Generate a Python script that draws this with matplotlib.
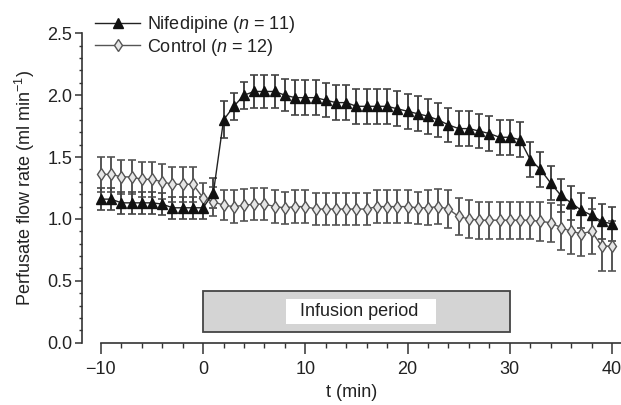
import matplotlib
matplotlib.use('Agg')
import matplotlib.pyplot as plt
from matplotlib.patches import Rectangle
from matplotlib.ticker import MultipleLocator
from matplotlib.lines import Line2D

plt.rcParams['font.family'] = ['Liberation Sans', 'DejaVu Sans']
plt.rcParams['mathtext.fontset'] = 'custom'
plt.rcParams['mathtext.rm'] = 'Liberation Sans'
plt.rcParams['mathtext.it'] = 'Liberation Sans:italic'

# ---- data ----
time_min = list(range(-10, 41))
nifedipine = [1.16, 1.16, 1.13, 1.13, 1.13, 1.13, 1.12, 1.09, 1.09, 1.09, 1.09,
              1.21, 1.80, 1.91, 2.00, 2.03, 2.03, 2.03, 2.00, 1.98, 1.98,
              1.98, 1.96, 1.94, 1.94, 1.91, 1.91, 1.91, 1.91, 1.89, 1.87,
              1.85, 1.83, 1.80, 1.76, 1.73, 1.73, 1.71, 1.69, 1.66, 1.66,
              1.64, 1.48, 1.40, 1.29, 1.19, 1.13, 1.07, 1.03, 0.98, 0.96]
nifedipine_sem = [0.09, 0.09, 0.09, 0.09, 0.09, 0.09, 0.09, 0.09, 0.09, 0.09, 0.09,
                  0.12, 0.15, 0.11, 0.11, 0.13, 0.13, 0.13, 0.13, 0.14, 0.14,
                  0.14, 0.14, 0.14, 0.14, 0.14, 0.14, 0.14, 0.14, 0.14, 0.14,
                  0.14, 0.14, 0.14, 0.14, 0.14, 0.14, 0.14, 0.14, 0.14, 0.14,
                  0.14, 0.14, 0.14, 0.14, 0.13, 0.14, 0.14, 0.14, 0.14, 0.14]
control = [1.36, 1.36, 1.34, 1.34, 1.32, 1.32, 1.30, 1.28, 1.28, 1.28, 1.17,
           1.14, 1.11, 1.10, 1.11, 1.12, 1.12, 1.10, 1.09, 1.10, 1.10,
           1.08, 1.08, 1.08, 1.08, 1.08, 1.08, 1.10, 1.10, 1.10, 1.10,
           1.09, 1.09, 1.10, 1.08, 1.02, 1.00, 0.99, 0.99, 0.99, 0.99,
           0.99, 0.99, 0.98, 0.97, 0.93, 0.90, 0.88, 0.90, 0.78, 0.78]
control_sem = [0.14, 0.14, 0.14, 0.14, 0.14, 0.14, 0.14, 0.14, 0.14, 0.14, 0.12,
               0.12, 0.12, 0.13, 0.13, 0.13, 0.13, 0.13, 0.13, 0.13, 0.13,
               0.13, 0.13, 0.13, 0.13, 0.13, 0.13, 0.13, 0.13, 0.13, 0.13,
               0.13, 0.14, 0.14, 0.15, 0.15, 0.15, 0.15, 0.15, 0.15, 0.15,
               0.15, 0.15, 0.16, 0.16, 0.18, 0.18, 0.18, 0.18, 0.20, 0.20]
infusion_start, infusion_end = 0, 30
labels = ['Nifedipine ($n$ = 11)', 'Control ($n$ = 12)']
x_label = 't (min)'
y_label = 'Perfusate flow rate (ml min$^{\u22121}$)'
box_label = 'Infusion period'

# ---- figure ----
fig = plt.figure(figsize=(6.21, 4.05), dpi=100)
ax = fig.add_axes([82 / 621, 62.3 / 405, 539 / 621, 309.4 / 405])
ax.set_xlim(-11.85, 40.88)
ax.set_ylim(0, 2.5)

axc = '#333333'
# infusion box
ax.add_patch(Rectangle((infusion_start, 0.089), infusion_end - infusion_start, 0.331,
                       facecolor='#d4d4d4', edgecolor='#444444', lw=1.3, zorder=1))
ax.add_patch(Rectangle((8.15, 0.151), 14.65, 0.20, facecolor='white',
                       edgecolor='none', zorder=2))
ax.text(15.3, 0.252, box_label, ha='center', va='center', fontsize=13,
        color='#222222', zorder=3)

# error bars
ax.errorbar(time_min, control, yerr=control_sem, fmt='none', ecolor='#555555',
            elinewidth=1.4, capsize=2.8, capthick=1.2, zorder=4)
ax.errorbar(time_min, nifedipine, yerr=nifedipine_sem, fmt='none', ecolor='#444444',
            elinewidth=1.4, capsize=2.8, capthick=1.2, zorder=4)
ax.plot(time_min, control, color='#555555', lw=1.0, marker='d', ms=6,
        mfc='#e6e6e6', mec='#555555', mew=1.0, zorder=5)
ax.plot(time_min, nifedipine, color='#222222', lw=1.0, marker='^', ms=7,
        mfc='#111111', mec='#111111', zorder=6)

# spines and ticks
for s in ['top', 'right']:
    ax.spines[s].set_visible(False)
ax.spines['left'].set_bounds(0, 2.5)
ax.spines['bottom'].set_bounds(-10, 40.88)
for s in ['left', 'bottom']:
    ax.spines[s].set_color(axc)
    ax.spines[s].set_linewidth(1.2)

ax.xaxis.set_major_locator(MultipleLocator(10))
ax.xaxis.set_minor_locator(MultipleLocator(2))
ax.yaxis.set_major_locator(MultipleLocator(0.5))
ax.yaxis.set_minor_locator(MultipleLocator(0.1))
ax.set_xticks([-10, 0, 10, 20, 30, 40])
ax.set_xticklabels(['\u221210', '0', '10', '20', '30', '40'])
ax.set_yticks([0, 0.5, 1.0, 1.5, 2.0, 2.5])
ax.set_yticklabels(['0.0', '0.5', '1.0', '1.5', '2.0', '2.5'])
ax.tick_params(axis='x', which='major', length=8, width=1.1, color=axc,
               labelsize=13, pad=5.5, labelcolor='#222222')
ax.tick_params(axis='x', which='minor', length=3.5, width=1.0, color=axc)
ax.tick_params(axis='y', which='major', length=5, width=1.1, color=axc,
               labelsize=13, pad=2, labelcolor='#222222')
ax.tick_params(axis='y', which='minor', length=2.2, width=1.0, color=axc)

ax.set_xlabel(x_label, fontsize=13, color='#222222', labelpad=4)
ax.set_ylabel(y_label, fontsize=13, color='#222222', labelpad=7)

# legend
h1 = Line2D([], [], color='#222222', lw=1.0, marker='^', ms=7, mfc='#111111', mec='#111111')
h2 = Line2D([], [], color='#555555', lw=1.0, marker='d', ms=6, mfc='#e6e6e6', mec='#555555')
ax.legend([h1, h2], labels, loc='upper left', bbox_to_anchor=(95 / 621, 1 - 14 / 405),
          bbox_transform=fig.transFigure, frameon=False, fontsize=13,
          handlelength=2.5, handletextpad=0.4, labelspacing=0.1, borderpad=0,
          borderaxespad=0, labelcolor='#222222')

fig.savefig('out.png', dpi=100)
